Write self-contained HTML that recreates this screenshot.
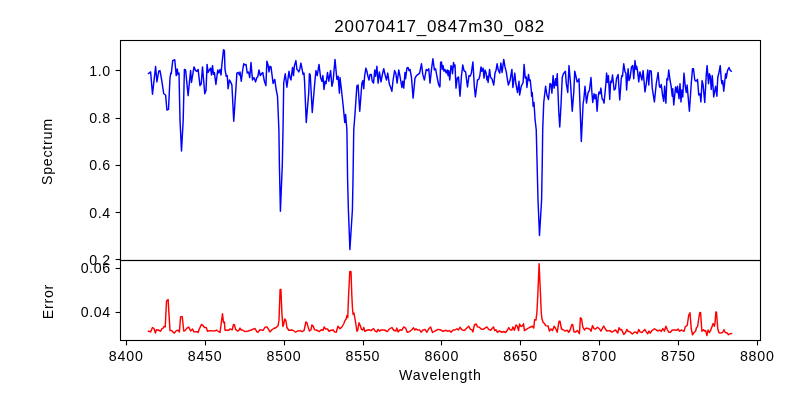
<!DOCTYPE html>
<html><head><meta charset="utf-8"><title>20070417_0847m30_082</title>
<style>
html,body{margin:0;padding:0;background:#fff;}
body{width:800px;height:400px;overflow:hidden;font-family:"Liberation Sans",sans-serif;}
svg{display:block;will-change:transform;}
</style></head><body>
<svg width="800" height="400" viewBox="0 0 800 400">
<rect width="800" height="400" fill="#fff"/>
<defs><clipPath id="c1"><rect x="120.5" y="40.5" width="640" height="220"/></clipPath><clipPath id="c2"><rect x="120.5" y="260.5" width="640" height="80"/></clipPath></defs>
<g clip-path="url(#c1)"><polyline fill="none" stroke="#0000ff" stroke-width="1.45" stroke-linejoin="round" stroke-linecap="square" points="148.5,73.5 150.6,71.9 152.5,94.2 155.6,66.5 156.9,81.9 158.75,71.25 160,70.6 161.9,81.25 162.5,85.6 163.75,93.75 165.6,95 166.9,110 168.5,109.4 170,78 170.8,73 171.25,73.75 172.75,60.6 174.75,59.75 176.25,75.6 177.25,69 178,74.4 179,73 180,120 181.5,151 183.2,120 184.4,69.4 185.6,70 188.1,95.6 190.6,70.6 191.5,82.5 192.25,77.5 194,66.9 195.6,70.6 196.9,71.25 198.1,69.4 200,85.6 201.25,83.75 202.5,66.9 204.75,93.75 206,90.6 207.1,64.4 208.1,72.5 209.4,70 210.6,68.1 211.5,75 212.5,65.6 213.5,74.4 214.4,72.5 215.9,84.4 217.75,70 218.75,73.1 220,69.4 221,75 221.9,64.4 223.5,49.75 224.4,50.6 225,69.4 226.25,76.25 227.25,75.6 228.1,88.75 229.4,80 230.6,81.9 231.9,85 233.75,121.25 236.9,73.1 238.1,72.5 239.4,75 240,71.9 241.25,81.25 242.5,71.25 243.75,63.75 245,65 246,64.4 247.25,73.1 248.5,71.9 249.75,77.5 251,62.5 252.5,80 254,77.5 255.6,81.9 256.9,77.5 257.75,76.9 259,70 260.25,75.6 261.5,73.75 262.75,72.5 264.4,81.25 265.9,85.6 266.9,61.25 268.1,65 269,71.9 270,66.25 271,66.9 273.1,83.4 274.75,79.4 276.25,90 277.5,96.25 278.9,130 279.4,165 280.4,211.25 282.3,165 283,130 283.75,82.5 285.25,73.75 286.9,87.2 289,71.25 290,77.5 291,80 292.5,67.5 293.5,75.6 294.4,65.6 295.9,60.6 296.9,69.4 297.75,70 298.75,71.9 299.75,69.4 300.9,63.1 301.9,68.1 303.1,74.4 304,73.1 304.6,82 306.25,122.5 308.75,92.5 309.4,73.75 310.25,75 312.25,112.5 315,80 316,70.6 317.25,75.6 319,64.4 320.6,77.5 321.9,81.25 322.9,75.6 324,89.4 325,81.25 326,83.75 327.5,72.5 328.75,81.25 330.6,70.6 331.9,86.25 333.1,81.25 335,59.4 336.9,79.4 338.1,76.25 339.4,93.1 340,77.5 341.25,88 343.1,105 344.75,122.5 345.6,114.4 346.9,130 347.6,180 348.4,210 349.9,249.5 352.4,210 353,180 353.75,130 355,113.75 356.9,85.9 358.1,85 359.75,111.25 361.9,83 362.9,80.6 363.75,88.75 364.6,76.25 365.9,68.1 366.9,71.25 367.75,75.6 369,80 370,74.4 371.25,74.4 372.25,81.25 373.5,83.1 374.75,70 375.6,76.25 376.9,66.25 378.1,83.1 379.4,71.9 381,81.9 382.5,73.75 383.75,68.75 385.25,75.6 386.5,80 387.75,73.1 389.4,84.4 390.25,86.25 391.9,91.25 393.1,80 394.6,70.6 395.9,73.75 397.1,83.1 398.75,70 400,76.25 401.9,87.5 402.75,81.25 403.75,88.1 405,72.5 405.6,78.75 406.9,68.1 408.1,67.5 409,70.6 410,69.4 411.5,77.5 413.1,98.1 415,78.1 416.5,75.6 418.1,74.4 419.6,73.1 421.5,63.75 422.75,74.4 424.4,80 426.25,69.4 427.5,70.6 428.75,68.75 430,83.1 431.5,69.4 432.9,58.75 434.4,70 435.6,68.75 436.9,76.25 438.75,85 439.75,86.9 440,86.25 440.6,62.5 441.5,62 442.25,69.4 443.1,65.6 444,71.25 445,69.4 446.25,73.1 447.25,70 448.1,75.6 448.75,70.6 449.75,80 451,65.6 451.9,66.9 452.5,73.75 453.5,62.5 454.4,66.9 455,65 456,88.1 457.25,78.1 458.5,76.9 460,96.25 461.5,75.6 462.75,65 464,70.6 465.6,71.9 467.5,86.9 469,75.6 470,76.25 471.25,73.75 472.9,61.9 474.4,87.5 475.4,96.9 477.5,80 478.75,79.4 479.75,76.25 481,66.9 481.9,71.25 483.1,68.1 484,78.1 485,70 486,72.5 486.9,80 487.5,76.25 488.1,82.5 489.6,69.4 490.6,77.5 491.9,78.75 493.75,85 495,73.1 496,70.6 497.1,63.75 498.1,69.4 499.75,73.1 500.9,63.1 502.1,72.5 503.75,59.4 505,66.9 506.25,71.9 507.5,80 508.4,85 510,80.6 511.9,69.4 512.9,87.5 514.75,73.1 515.9,83.75 517.5,92.5 519,81.25 519.6,95 521.25,86.25 523.1,82.5 524.1,64.4 525.25,78.1 526.25,76.9 526.9,87.5 528.5,74.4 529.4,80.6 530.25,80 531.25,90 531.6,96.25 532.25,92.5 533.1,106.25 534,102.5 535,118.75 536.25,130 537,160 538,200 539.5,235.5 541.6,200 542.3,160 542.7,130 543.75,102.5 545.6,86.25 546.9,95 548.5,99.4 550,83.5 551,84.4 551.9,93.1 553.1,75.6 554.1,88.1 555.6,78.75 556.25,85.6 557.25,73.75 558.75,111.25 559.75,126.9 561,105 562.25,77.5 563.1,74.4 564.4,72.5 565.4,71.25 566.25,83.1 567.75,92.5 569,65.6 570.6,84.4 572.25,111.25 573.75,92.5 574.75,71.25 575.9,76.25 577.1,81.9 578.1,81.25 579,78.75 580,105 581.3,141.5 583.1,103.75 583.75,100 585,86.25 586.5,103.1 588.1,92.5 589.4,90.6 591,77.5 591.9,92.5 592.75,102.5 594,93.75 595,98.75 596,94.4 597.1,111.25 598.1,97.5 599,91.9 600,93.75 600.9,88.1 602.1,98.75 603.1,100 604,103.1 605,93.1 605.9,83.75 606.6,73.1 607.5,82.5 608.4,75.6 609.75,99.4 610.6,81.25 611.5,82.5 612.5,75 613.75,86.25 614.1,90 615.4,88.75 616.5,78.75 618.1,74.4 619.75,100 621.25,78.75 621.9,75.6 622.5,76.25 623.75,63.75 625,71.9 625.9,73.1 626.6,90 628.1,68.75 629,80.6 630,78.1 631.5,66.9 632.75,65.6 633.75,78.75 635,60.6 636,69.4 636.6,66.25 637.5,70.6 638.75,81.9 639.75,72.5 640,71.9 641.25,77.5 641.9,80 643.1,70.6 645,91.9 646.25,83.75 647.75,70 648.75,85 649.75,70.6 651.25,71.25 652.25,88.1 654.4,101.9 656.25,83.75 658.1,72.5 659.4,86.25 660.25,87.5 661.25,84.4 662.5,95 663.75,101.25 664.6,86.25 665.9,103.1 666.9,78.75 667.75,80 668.75,70 670,80 671.25,86.9 672.25,96.25 672.75,88.75 673.75,105 675.6,86.9 676.9,92.5 677.5,86.25 679,98.75 680,83.75 681,101.9 681.9,90 682.75,96.9 684,73.1 685.25,86.25 686.25,92.5 687.1,85 689.4,111.25 691.25,83.75 692.5,68.75 693.5,68.75 694.75,80 696,81.25 697.5,79.4 698.75,95 700,93.75 700.9,101.9 702.1,80.6 703.1,85 704.75,102.5 706.25,75 707.1,65.6 708.5,83.75 709.4,73.75 710.25,76.25 711.25,89.4 712.25,75.6 713.75,96.9 715.6,86.25 716.9,96.25 717.75,77.5 719,72.5 720.25,65.6 721.25,79.4 721.9,83.75 722.75,80.6 723.75,91.25 725.6,73.75 726.25,78.1 727.5,70.6 729,67.5 730,70 731.25,71.25"/></g>
<g clip-path="url(#c2)"><polyline fill="none" stroke="#ff0000" stroke-width="1.45" stroke-linejoin="round" stroke-linecap="square" points="148.5,331.25 150.6,331.9 152.5,327.5 154,328.5 155.4,333.1 156.5,329.75 158.75,330.25 160.6,331.25 161.9,328.75 163.1,328.1 164,326.5 165.25,326.9 166.5,301 168.1,299.4 170,330.6 171.9,330.6 172.75,331.9 174.4,333.1 176.25,330.6 178.1,330.25 179.4,331.9 180.6,316.6 182.25,316.6 183.75,331 185,330.6 186.9,328.1 188.75,327.1 190.6,331 192.5,329 194,331.9 196.9,331.6 198.1,332.5 199,329.75 200,327.5 201.5,324.4 203.1,325.6 204.4,327.5 206.25,327.5 207.5,331.25 210,330.6 215,331 216.5,330 218.1,331.25 220,332.5 221.25,323.1 222.5,313.75 223.5,322.5 224.4,321.9 225,330.25 228.75,330.25 230,329 232.25,329.75 233.5,324.4 234.4,324.75 235.6,329.4 237.5,331 238.75,330.6 239.75,328.5 240,328.1 241.25,330 242.5,330 245,331.6 248.1,331 251.25,330 253.1,329.1 255,328.5 256.9,331.9 258.5,331.9 259.75,329.75 263.1,330.4 265,327.25 266.9,326.9 268.5,329.4 270,331.9 271.9,329.75 273.75,328.5 276.25,327.5 278.1,325.6 279,320 280.1,289.4 280.9,289.4 281.9,313.75 282.9,326.5 283.5,325 284.75,319 286,321 286.9,327.5 288.75,330.25 292.5,330 295.6,332.25 297.5,331 300,330.6 301.9,331.6 304,330.6 305,326.25 305.9,321.9 306.9,322.75 308.1,326.9 309.4,331 310.9,330 311.9,325 313.1,325.9 314.6,329.75 316.25,330 319.4,331.6 321.25,329.75 323.1,330.25 324.1,326.9 325.6,329 327.5,329 329,331.25 331.25,330.25 333.5,330 334.4,331.9 336.25,332.25 337.9,326.25 339,327.5 340,328.75 341.9,326.9 343.75,323.75 345,320.6 346.25,318.75 346.9,315.6 347.75,317.5 348.6,295 349.8,271.5 351,271.8 351.8,295 352.5,308.75 353.1,314.4 354,313.1 355.6,322.5 356.9,331.25 357.75,330 359,322.75 360.25,325.6 361.5,329.4 362.75,330 363.75,327.5 364.75,331.25 366.9,330.25 368.75,329.75 371,330.6 373.5,328.5 375,331 376.9,331.9 378.1,329.4 379.4,331 381.25,330 384.4,330 387.25,331.6 389.4,329 391.9,327.5 393.75,330.25 395.9,331 396.9,328.1 398.1,331.9 400,329.75 401.9,330.25 403.75,326.9 405.6,328.1 407.25,332.25 409.4,331.6 411.9,329.75 413.5,327.75 414.75,330 416,328.75 417.5,330 419.75,330 421,332.25 423.1,330 425,329.4 426.9,332.25 428.75,328.75 430.6,326.9 432.5,332.5 435,331 438.1,329.4 440,329.75 443.1,331.25 446.25,330.25 447.5,331.25 449.4,330.6 451,332.25 453.1,330 455,330 456.9,328.75 458.5,330 460,327.25 461.9,329.75 464.4,330.6 466.9,328.1 468.75,326.25 470.4,329.4 471.9,329.75 472.9,331.9 474.4,325 476.25,324 477.5,326.9 479.4,327.25 481,329 483.1,329.4 485,328.1 486.9,326.9 488.75,329.4 490.6,330.25 492.5,328.1 493.5,326.9 494.75,330.6 496,329.75 497.25,332.25 499.4,331 501.9,332.25 503.75,331.5 505.6,332.5 507.5,330 508.75,327.5 510.25,330 511.9,330 512.9,326.9 514.4,330.25 516,325 517.5,326.5 518.5,330.6 519.6,324 521,326.5 522.25,326 523.5,323.75 524.4,330.6 526.25,329.4 529.4,327.5 532.5,326.25 533.75,328.1 534.6,319.75 536,320 536.9,312.5 537.8,295 539.1,263.8 540.3,290 541.25,312.5 541.9,318.75 543.1,322.25 544.4,323.5 545.6,325.6 548.1,326 549.4,331 551,329 552.5,330.6 554.1,326.25 555.6,328.5 557.25,332.25 559,321.25 560,321.25 561.5,329 563.1,329.75 565,331 567.25,330.25 568.75,332.25 570,330.25 571.9,324.4 572.75,324.75 574,331.9 575.6,331.9 577.5,330.6 579.4,333.75 580.4,317.75 581.5,318.5 582.75,326.9 584.4,330 586.25,328.1 588.1,328.5 590,329.4 591,331.25 592.5,325.6 594,328.75 595.6,329 597.5,327.25 599.4,328.75 600.9,331.25 602.5,328.1 603.75,326 605,328.5 606.9,331 610,330.6 611.9,332.25 613.75,331 615.6,330 617.75,333.1 619,327.75 620.25,329.75 621.5,329.4 623.75,334.4 625.6,332.5 626.9,329.4 628.1,331.25 630,331.9 632.25,334 634.4,332.25 635.6,331.9 637.25,333.5 638.75,329.4 640,331.9 641.9,332.5 643.1,331.25 644.75,329.4 646.25,331.9 647.75,333.75 649,331 650.25,333.1 651.9,330.6 654.4,328.75 656.25,330 658.1,331 659.75,330 661.25,331.5 662.75,328.5 664.4,331.25 665.9,326.25 667.5,330 668.75,332.25 670.4,332.25 672.25,330 675,330 676.9,330.25 678.1,329.1 679.75,331.25 681.25,330 682.5,330.6 684,331.25 685.25,326.9 687.25,325.25 688.75,315 690,312.75 691.25,328.75 692.5,334.75 694,332.5 695.6,331.25 696.5,327.5 697.5,326.9 698.75,318.75 699.75,312.5 700.6,312.75 701.9,331.25 703.5,329.75 704.4,331 705.6,330.6 706.9,335.6 708.1,330 709.4,332.5 710.6,330.6 711.9,326.9 713.1,323.5 714.4,326.25 715,323.1 715.9,311.9 716.5,312.25 717.75,328.75 719,332.75 720.6,333.1 722.5,332.5 724,329.75 725.25,332.5 726.9,332.75 728.5,334.75 730,333.75 731.5,333.5"/></g>
<g stroke="#000" stroke-width="1.11" fill="none">
<line x1="126.5" y1="340.5" x2="126.5" y2="345.4"/>
<line x1="205.5" y1="340.5" x2="205.5" y2="345.4"/>
<line x1="284.5" y1="340.5" x2="284.5" y2="345.4"/>
<line x1="363.5" y1="340.5" x2="363.5" y2="345.4"/>
<line x1="441.5" y1="340.5" x2="441.5" y2="345.4"/>
<line x1="520.5" y1="340.5" x2="520.5" y2="345.4"/>
<line x1="599.5" y1="340.5" x2="599.5" y2="345.4"/>
<line x1="678.5" y1="340.5" x2="678.5" y2="345.4"/>
<line x1="757.5" y1="340.5" x2="757.5" y2="345.4"/>
<line x1="120.5" y1="70.5" x2="115.6" y2="70.5"/>
<line x1="120.5" y1="118.5" x2="115.6" y2="118.5"/>
<line x1="120.5" y1="165.5" x2="115.6" y2="165.5"/>
<line x1="120.5" y1="212.5" x2="115.6" y2="212.5"/>
<line x1="120.5" y1="259.5" x2="115.6" y2="259.5"/>
<line x1="120.5" y1="268.5" x2="115.6" y2="268.5"/>
<line x1="120.5" y1="312.5" x2="115.6" y2="312.5"/>
</g>
<g stroke="#000" stroke-width="1.11" fill="none" stroke-linecap="square">
<rect x="120.5" y="40.5" width="640" height="220"/>
<rect x="120.5" y="260.5" width="640" height="80"/>
</g>
<g font-family="'Liberation Sans', sans-serif" fill="#000">
<text x="439.3" y="32" font-size="17px" text-anchor="middle" textLength="210" lengthAdjust="spacing">20070417<tspan dy="1.3">_</tspan><tspan dy="-1.3">0847m30</tspan><tspan dy="1.3">_</tspan><tspan dy="-1.3">082</tspan></text>
<text x="125.8" y="360.9" font-size="14.2px" text-anchor="middle" textLength="34" lengthAdjust="spacing">8400</text>
<text x="204.7" y="360.9" font-size="14.2px" text-anchor="middle" textLength="34" lengthAdjust="spacing">8450</text>
<text x="283.6" y="360.9" font-size="14.2px" text-anchor="middle" textLength="34" lengthAdjust="spacing">8500</text>
<text x="362.5" y="360.9" font-size="14.2px" text-anchor="middle" textLength="34" lengthAdjust="spacing">8550</text>
<text x="441.4" y="360.9" font-size="14.2px" text-anchor="middle" textLength="34" lengthAdjust="spacing">8600</text>
<text x="520.2" y="360.9" font-size="14.2px" text-anchor="middle" textLength="34" lengthAdjust="spacing">8650</text>
<text x="599.1" y="360.9" font-size="14.2px" text-anchor="middle" textLength="34" lengthAdjust="spacing">8700</text>
<text x="678.0" y="360.9" font-size="14.2px" text-anchor="middle" textLength="34" lengthAdjust="spacing">8750</text>
<text x="756.9" y="360.9" font-size="14.2px" text-anchor="middle" textLength="34" lengthAdjust="spacing">8800</text>
<text x="110.2" y="76.4" font-size="14.2px" text-anchor="end" textLength="21" lengthAdjust="spacing">1.0</text>
<text x="110.2" y="123.4" font-size="14.2px" text-anchor="end" textLength="21" lengthAdjust="spacing">0.8</text>
<text x="110.2" y="170.4" font-size="14.2px" text-anchor="end" textLength="21" lengthAdjust="spacing">0.6</text>
<text x="110.2" y="218.4" font-size="14.2px" text-anchor="end" textLength="21" lengthAdjust="spacing">0.4</text>
<text x="110.2" y="264.9" font-size="14.2px" text-anchor="end" textLength="21" lengthAdjust="spacing">0.2</text>
<text x="110.2" y="273.4" font-size="14.2px" text-anchor="end" textLength="29.5" lengthAdjust="spacing">0.06</text>
<text x="110.2" y="317.4" font-size="14.2px" text-anchor="end" textLength="29.5" lengthAdjust="spacing">0.04</text>
<text x="440" y="379.7" font-size="14.2px" text-anchor="middle" textLength="82" lengthAdjust="spacing">Wavelength</text>
<text transform="translate(52.3,152) rotate(-90)" font-size="14.2px" text-anchor="middle" textLength="66" lengthAdjust="spacing">Spectrum</text>
<text transform="translate(52.7,302) rotate(-90)" font-size="14.2px" text-anchor="middle" textLength="34.5" lengthAdjust="spacing">Error</text>
</g>
</svg>
</body></html>
